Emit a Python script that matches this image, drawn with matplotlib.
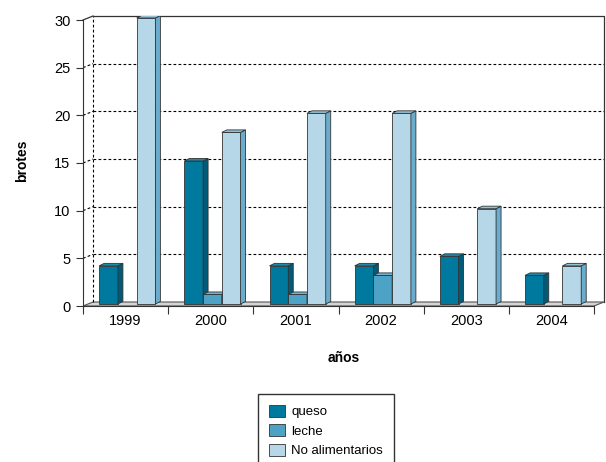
import matplotlib
matplotlib.use('Agg')
import matplotlib.pyplot as plt
from matplotlib.patches import Polygon, Patch

years = ['1999', '2000', '2001', '2002', '2003', '2004']
series_names = ['queso', 'leche', 'No alimentarios']
queso = [4, 15, 4, 4, 5, 3]
leche = [0, 1, 1, 3, 0, 0]
no_alimentarios = [30, 18, 20, 20, 10, 4]
y_ticks = [0, 5, 10, 15, 20, 25, 30]

front_colors = ['#00799f', '#4da3c6', '#b5d7e7']
side_colors = ['#005a78', '#2f7f9e', '#6aaccd']
top_colors = ['#1b8aad', '#6bb5d3', '#8fc2db']

plt.rcParams['font.family'] = ['Liberation Sans', 'DejaVu Sans']

fig = plt.figure(figsize=(6.06, 4.62), dpi=100)
# front plane: x 83..594 px, y 306..20 px ; back wall shifted by (10, 4) px
ax = fig.add_axes([83 / 606, (462 - 306) / 462, 521 / 606, 290 / 462])

n = len(years)
ymax = 30
px_x = 511 / n          # pixels per category
px_y = 286 / ymax       # pixels per unit
wall_dx = 10 / px_x
wall_dy = 4 / px_y
bar_dx = 5 / px_x
bar_dy = 2.5 / px_y
bar_w = 0.22

ax.set_xlim(0, n + wall_dx)
ax.set_ylim(0, ymax + wall_dy)

# floor
floor = Polygon([(0, 0), (n, 0), (n + wall_dx, wall_dy), (wall_dx, wall_dy)],
                closed=True, facecolor='#d4d4d4', edgecolor='#555555',
                lw=0.8, zorder=1)
ax.add_patch(floor)

# back wall gridlines and side-wall diagonals
for v in y_ticks[1:-1]:
    ax.plot([wall_dx, n + wall_dx], [v + wall_dy, v + wall_dy], color='black',
            lw=0.8, ls=(0, (2.5, 2)), zorder=1)
    ax.plot([0, wall_dx], [v, v + wall_dy], color='black', lw=0.8,
            ls=(0, (2.5, 2)), zorder=1)
ax.plot([wall_dx, wall_dx], [wall_dy, ymax + wall_dy], color='black', lw=0.8,
        ls=(0, (2.5, 2)), zorder=1)
ax.plot([wall_dx, n + wall_dx, n + wall_dx], [ymax + wall_dy, ymax + wall_dy, wall_dy],
        color='#333333', lw=0.9, zorder=1, clip_on=False)
ax.plot([0, wall_dx], [ymax, ymax + wall_dy], color='#333333', lw=0.9,
        zorder=1, clip_on=False)

# bars with a little depth
data = [queso, leche, no_alimentarios]
base = wall_dy / 2
z = 3
for i in range(n):
    for s, vals in enumerate(data):
        v = vals[i]
        if v == 0:
            continue
        x0 = i + 0.19 + s * bar_w
        x1 = x0 + bar_w
        top = base + v
        ax.bar(x0, v, width=bar_w, bottom=base, align='edge',
               color=front_colors[s], edgecolor='#333333', lw=0.6, zorder=z)
        side = Polygon([(x1, base), (x1 + bar_dx, base + bar_dy),
                        (x1 + bar_dx, top + bar_dy), (x1, top)], closed=True,
                       facecolor=side_colors[s], edgecolor='#333333', lw=0.6,
                       zorder=z)
        cap = Polygon([(x0, top), (x1, top), (x1 + bar_dx, top + bar_dy),
                       (x0 + bar_dx, top + bar_dy)], closed=True,
                      facecolor=top_colors[s], edgecolor='#333333', lw=0.6,
                      zorder=z)
        ax.add_patch(side)
        ax.add_patch(cap)
        z += 1

# axes
for sp in ['top', 'right']:
    ax.spines[sp].set_visible(False)
ax.spines['left'].set_bounds(0, ymax)
ax.spines['bottom'].set_bounds(0, n)
ax.spines['left'].set_color('#333333')
ax.spines['bottom'].set_color('#333333')

ax.set_yticks(y_ticks)
ax.set_yticklabels([str(t) for t in y_ticks], fontsize=10.5)
ax.tick_params(axis='y', length=5, width=0.8, color='#333333', pad=4)

ax.set_xticks(range(n + 1))
ax.set_xticklabels([''] * (n + 1))
ax.tick_params(axis='x', which='major', length=6, width=0.8, color='#333333')
ax.set_xticks([i + 0.5 for i in range(n)], minor=True)
ax.set_xticklabels(years, minor=True, fontsize=10.5)
ax.tick_params(axis='x', which='minor', length=0, pad=6)

ax.set_ylabel('brotes', fontsize=10, fontweight='bold', labelpad=18)
ax.set_xlabel('años', fontsize=10, fontweight='bold', labelpad=16)

handles = [Patch(facecolor=front_colors[s], edgecolor='#333333', lw=0.6)
           for s in range(3)]
fig.legend(handles, series_names, loc='upper center',
           bbox_to_anchor=(326 / 606, 1 - 394 / 462), fontsize=9.5,
           frameon=True, fancybox=False, edgecolor='#333333', framealpha=1,
           handlelength=1.25, handleheight=1.05, handletextpad=0.45,
           labelspacing=0.45, borderpad=0.8, borderaxespad=0)

fig.savefig('out.png', dpi=100)
